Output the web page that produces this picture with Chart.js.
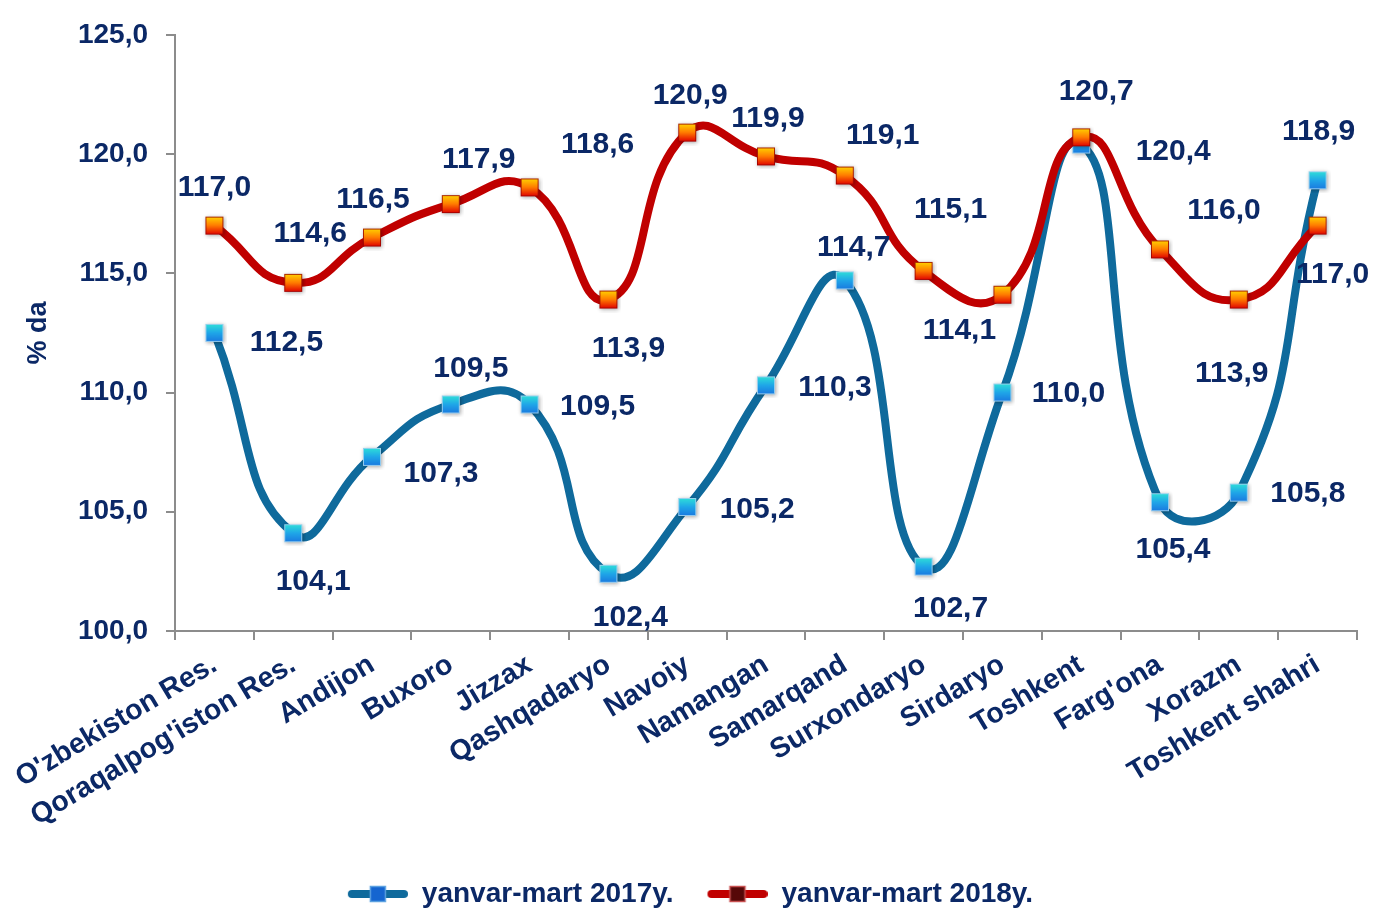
<!DOCTYPE html>
<html>
<head>
<meta charset="utf-8">
<title>yanvar-mart 2017-2018</title>
<script src="https://cdn.jsdelivr.net/npm/chart.js@4.4.1/dist/chart.umd.min.js"></script>
<style>
  body { margin: 0; background: #fff; }
  #wrap { width: 1375px; height: 912px; }
</style>
</head>
<body>
<div id="wrap"><canvas id="grafik" width="1375" height="912"></canvas></div>
<script>
// Ma'lumotlar
const hududlar = ["O'zbekiston Res.", "Qoraqalpog'iston Res.", 'Andijon', 'Buxoro', 'Jizzax',
    'Qashqadaryo', 'Navoiy', 'Namangan', 'Samarqand', 'Surxondaryo', 'Sirdaryo', 'Toshkent',
    "Farg'ona", 'Xorazm', 'Toshkent shahri'];
const qiymat2017 = [112.5, 104.1, 107.3, 109.5, 109.5, 102.4, 105.2, 110.3, 114.7, 102.7, 110.0, 120.4, 105.4, 105.8, 118.9];
const qiymat2018 = [117.0, 114.6, 116.5, 117.9, 118.6, 113.9, 120.9, 119.9, 119.1, 115.1, 114.1, 120.7, 116.0, 113.9, 117.0];
const yTicks = [100, 105, 110, 115, 120, 125];

const navy = '#0b2866';
const fontFam = '"Liberation Sans", Arial, sans-serif';

// Yorliqlar joylashuvi (nuqtaga nisbatan siljish, px)
const siljish2017 = [[72, 10], [20, 49], [69, 17], [20, -36], [68, 2], [22, 44], [70, 3], [69, 2],
    [9, -33], [27, 42], [66, 1], [92, 7], [13, 48], [69, 1], [1, -49]];
const siljish2018 = [[0, -38], [17, -49], [1, -38], [28, -44], [68, -43], [20, 49], [3, -37], [2, -38],
    [38, -40], [27, -61], [-43, 36], [15, -46], [64, -39], [-7, 74], [15, 49]];

// Marker rasmlari
function marker(ranglar, chegara) {
    const c = document.createElement('canvas');
    c.width = 26; c.height = 26;
    const x = c.getContext('2d');
    x.shadowColor = 'rgba(0,0,0,0.35)';
    x.shadowBlur = 4;
    x.shadowOffsetX = 1; x.shadowOffsetY = 1;
    const g = x.createLinearGradient(0, 4, 0, 22);
    ranglar.forEach((r, i) => g.addColorStop(i / (ranglar.length - 1), r));
    x.fillStyle = g;
    x.fillRect(4, 4, 18, 18);
    x.shadowColor = 'transparent';
    x.strokeStyle = chegara;
    x.lineWidth = 1;
    x.strokeRect(4.5, 4.5, 17, 17);
    return c;
}

// Legenda belgisi: chap tomonda bo'sh joy, o'ngda chiziq + kvadrat
function legendRasm(chiziq, ichi, chegara) {
    const c = document.createElement('canvas');
    c.width = 84; c.height = 22;
    const x = c.getContext('2d');
    x.strokeStyle = chiziq;
    x.lineWidth = 8;
    x.lineCap = 'round';
    x.beginPath(); x.moveTo(28, 11); x.lineTo(80, 11); x.stroke();
    x.fillStyle = ichi;
    x.fillRect(46, 3, 16, 16);
    x.strokeStyle = chegara;
    x.lineWidth = 1.5;
    x.strokeRect(46.5, 3.5, 15, 15);
    return c;
}

const markerKok = marker(['#2fe0d8', '#1fa6e8', '#1a78e0'], 'rgba(160,210,240,0.9)');
const markerQizil = marker(['#ffd400', '#ff7a00', '#e00000'], 'rgba(150,0,0,0.8)');
const legendKok = legendRasm('#0f6a9c', '#1565d0', '#5aa0e0');
const legendQizil = legendRasm('#c00000', '#560808', '#c85050');

// Qiymat yorliqlari plagini
const yorliqlar = {
    id: 'yorliqlar',
    afterDatasetsDraw(chart) {
        const ctx = chart.ctx;
        ctx.save();
        ctx.font = 'bold 30px ' + fontFam;
        ctx.fillStyle = navy;
        ctx.textAlign = 'center';
        ctx.textBaseline = 'middle';
        chart.data.datasets.forEach((ds, i) => {
            const meta = chart.getDatasetMeta(i);
            meta.data.forEach((p, j) => {
                const s = ds.siljish[j];
                const matn = ds.data[j].toFixed(1).replace('.', ',');
                ctx.fillText(matn, p.x + s[0], p.y + s[1]);
            });
        });
        ctx.restore();
    }
};

const ctx = document.getElementById('grafik').getContext('2d');
new Chart(ctx, {
    type: 'line',
    data: {
        labels: hududlar,
        datasets: [{
            label: 'yanvar-mart 2017y.',
            data: qiymat2017,
            siljish: siljish2017,
            borderColor: '#0f6a9c',
            borderWidth: 8,
            tension: 0.5,
            pointStyle: markerKok,
            legendRasm: legendKok,
            order: 2
        }, {
            label: 'yanvar-mart 2018y.',
            data: qiymat2018,
            siljish: siljish2018,
            borderColor: '#c00000',
            borderWidth: 8,
            tension: 0.5,
            pointStyle: markerQizil,
            legendRasm: legendQizil,
            order: 1
        }]
    },
    options: {
        responsive: false,
        animation: false,
        layout: { padding: { top: 12, right: 18, left: 0, bottom: -6 } },
        scales: {
            x: {
                offset: true,
                grid: { offset: true, drawOnChartArea: false, color: '#8c8c8c', tickLength: 9, lineWidth: 2 },
                border: { color: '#8c8c8c', width: 2 },
                ticks: {
                    autoSkip: false, minRotation: 31, maxRotation: 31, padding: 8,
                    color: navy, font: { family: fontFam, size: 28.5, weight: 'bold' }
                },
                afterFit(scale) { scale.height = 239; }
            },
            y: {
                min: 100, max: 125,
                afterBuildTicks(scale) { scale.ticks = yTicks.map(v => ({ value: v })); },
                grid: { drawOnChartArea: false, color: '#8c8c8c', tickLength: 9, lineWidth: 2 },
                border: { color: '#8c8c8c', width: 2 },
                ticks: {
                    padding: 18, color: navy,
                    font: { family: fontFam, size: 28, weight: 'bold' },
                    callback: v => v.toFixed(1).replace('.', ',')
                },
                title: {
                    display: true, text: '% da', color: navy, padding: { top: 22, bottom: 0 },
                    font: { family: fontFam, size: 27, weight: 'bold' }
                },
                afterFit(scale) { scale.width = 175; }
            }
        },
        plugins: {
            tooltip: { enabled: false },
            legend: {
                position: 'bottom',
                labels: {
                    usePointStyle: true,
                    pointStyleWidth: 84,
                    padding: 10,
                    color: navy,
                    font: { family: fontFam, size: 28, weight: 'bold' },
                    sort: (a, b) => a.datasetIndex - b.datasetIndex,
                    generateLabels(chart) {
                        const items = Chart.defaults.plugins.legend.labels.generateLabels(chart);
                        items.forEach(it => { it.pointStyle = chart.data.datasets[it.datasetIndex].legendRasm; });
                        return items;
                    }
                }
            }
        }
    },
    plugins: [yorliqlar]
});
</script>
</body>
</html>
